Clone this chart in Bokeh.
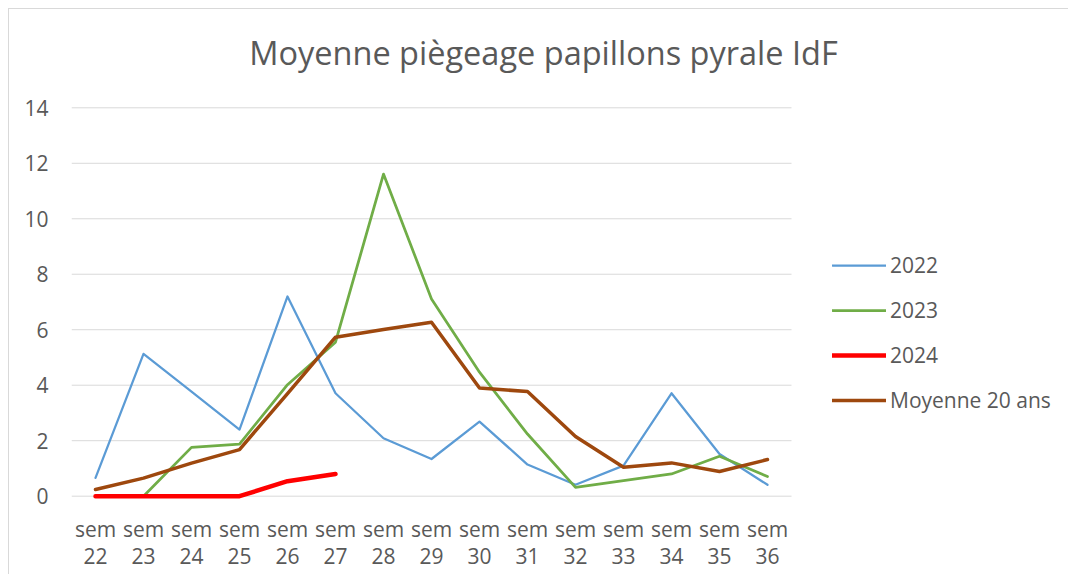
from bokeh.plotting import figure
from bokeh.models import Range1d, Legend, LegendItem, Label, FixedTicker, LinearAxis
from bokeh.embed import file_html
from bokeh.resources import INLINE

weeks = ["sem 22", "sem 23", "sem 24", "sem 25", "sem 26", "sem 27", "sem 28", "sem 29",
         "sem 30", "sem 31", "sem 32", "sem 33", "sem 34", "sem 35", "sem 36"]
v2022 = [0.66, 5.13, 3.77, 2.40, 7.20, 3.71, 2.09, 1.34, 2.69, 1.14, 0.41, 1.10, 3.71, 1.52, 0.41]
v2023 = [0.0, 0.0, 1.76, 1.88, 4.02, 5.55, 11.61, 7.11, 4.47, 2.24, 0.32, 0.56, 0.80, 1.44, 0.71]
v2024 = [0.0, 0.0, 0.0, 0.0, 0.54, 0.80]
moy20 = [0.24, 0.65, 1.19, 1.68, 3.70, 5.73, 6.01, 6.27, 3.90, 3.77, 2.15, 1.04, 1.20, 0.89, 1.32]
y_ticks = [0, 2, 4, 6, 8, 10, 12, 14]
title_text = "Moyenne piègeage papillons pyrale IdF"

TXT = "#595959"
FONT = "Open Sans"

# layout (pixels)
PX_PER_UNIT_Y = 27.74
PX_PER_CAT = 48
TOP_GAP = 98.3          # px between canvas top and the 14 gridline
FRAME_H = 495
FRAME_W = 997
Y_START = -0.3
Y_END = y_ticks[-1] + TOP_GAP / PX_PER_UNIT_Y
X_START = -0.5
X_END = X_START + FRAME_W / PX_PER_CAT

xs = list(range(len(weeks)))

p = figure(x_range=Range1d(X_START, X_END),
           y_range=Range1d(Y_START, Y_END),
           frame_width=FRAME_W, frame_height=FRAME_H,
           min_border_left=62, min_border_right=0, min_border_top=0, min_border_bottom=70,
           output_backend="svg", toolbar_location=None, tools="")
p.styles = {"margin-left": "8px", "margin-top": "8px",
            "border-top": "1px solid #d9d9d9", "border-left": "1px solid #d9d9d9"}
p.outline_line_color = None
p.background_fill_color = "white"
p.border_fill_color = "white"

# horizontal gridlines limited to the category span
p.xgrid.grid_line_color = None
p.ygrid.grid_line_color = None
p.segment(x0=xs[0] - 0.5, x1=xs[-1] + 0.5, y0=y_ticks, y1=y_ticks,
          line_color="#d9d9d9", line_width=1, level="underlay")

p.yaxis.ticker = FixedTicker(ticks=y_ticks)
p.xaxis.ticker = FixedTicker(ticks=xs)

x2 = LinearAxis(ticker=FixedTicker(ticks=xs))
p.add_layout(x2, "below")

for ax in (p.xaxis[0], p.yaxis[0], x2):
    ax.axis_line_color = None
    ax.major_tick_line_color = None
    ax.minor_tick_line_color = None
    ax.major_tick_out = 0
    ax.major_tick_in = 0
    ax.minor_tick_out = 0
    ax.minor_tick_in = 0
    ax.major_label_text_color = TXT
    ax.major_label_text_font = FONT
    ax.major_label_text_font_size = "21px"
p.yaxis.major_label_standoff = 23
p.xaxis[0].major_label_standoff = 10
p.xaxis[0].major_label_overrides = {i: w.split(" ")[0] for i, w in enumerate(weeks)}
x2.major_label_standoff = 2
x2.major_label_overrides = {i: w.split(" ")[1] for i, w in enumerate(weeks)}

r1 = p.line(xs, v2022, line_color="#5B9BD5", line_width=2.25, line_cap="round", line_join="round")
r2 = p.line(xs, v2023, line_color="#70AD47", line_width=2.75, line_cap="round", line_join="round")
r3 = p.line(xs[:len(v2024)], v2024, line_color="#FF0000", line_width=4.5, line_cap="round", line_join="round")
r4 = p.line(xs, moy20, line_color="#9E480E", line_width=3.5, line_cap="round", line_join="round")

legend = Legend(items=[LegendItem(label="2022", renderers=[r1]),
                       LegendItem(label="2023", renderers=[r2]),
                       LegendItem(label="2024", renderers=[r3]),
                       LegendItem(label="Moyenne 20 ans", renderers=[r4])],
                location=(761, 90), glyph_width=54, glyph_height=20, label_height=20,
                spacing=17, label_standoff=4, padding=0, margin=0,
                border_line_color=None, background_fill_alpha=0,
                label_text_font=FONT, label_text_font_size="21px", label_text_color=TXT)
p.add_layout(legend, "center")

p.add_layout(Label(x=472, y=452, x_units="screen", y_units="screen", text=title_text,
                   text_align="center", text_baseline="alphabetic", text_font=FONT,
                   text_font_size="32.5px", text_color=TXT))

open("out.html", "w").write(file_html(p, INLINE))
